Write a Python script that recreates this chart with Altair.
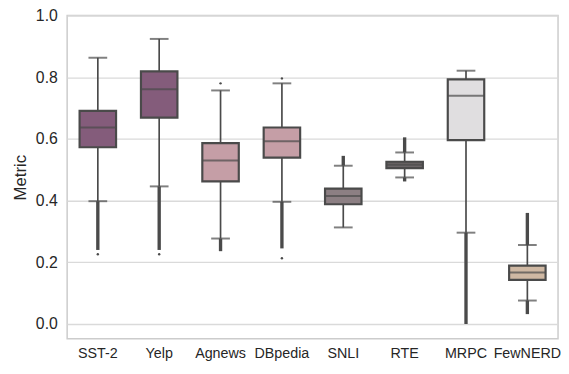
import altair as alt
import pandas as pd

cats = ["SST-2", "Yelp", "Agnews", "DBpedia", "SNLI", "RTE", "MRPC", "FewNERD"]
colors = ["#845C7B", "#845C7B", "#C59EA6", "#C59EA6", "#8C7F83", "#6B6567", "#E0DEE0", "#CFB8A3"]
w_lo = [0.398, 0.446, 0.277, 0.396, 0.313, 0.475, 0.296, 0.076]
q1 = [0.573, 0.669, 0.462, 0.539, 0.388, 0.505, 0.596, 0.143]
med = [0.637, 0.761, 0.530, 0.592, 0.415, 0.516, 0.740, 0.167]
q3 = [0.691, 0.819, 0.586, 0.637, 0.439, 0.526, 0.793, 0.189]
w_hi = [0.863, 0.924, 0.757, 0.780, 0.513, 0.556, 0.821, 0.256]

# dense outlier runs (category, from, to)
band_cat = ["SST-2", "Yelp", "Agnews", "DBpedia", "SNLI", "RTE", "RTE", "MRPC", "FewNERD", "FewNERD"]
band_lo = [0.240, 0.240, 0.236, 0.245, 0.513, 0.556, 0.462, 0.000, 0.256, 0.032]
band_hi = [0.398, 0.446, 0.277, 0.396, 0.545, 0.605, 0.475, 0.296, 0.360, 0.076]

# isolated outliers
pt_cat = ["SST-2", "Yelp", "Agnews", "DBpedia", "DBpedia"]
pt_val = [0.226, 0.226, 0.780, 0.796, 0.213]

box = pd.DataFrame({"cat": cats, "color": colors, "w_lo": w_lo, "q1": q1,
                    "med": med, "q3": q3, "w_hi": w_hi})
bands = pd.DataFrame({"cat": band_cat, "lo": band_lo, "hi": band_hi})
pts = pd.DataFrame({"cat": pt_cat, "v": pt_val})

line_col = "#4A4A4A"
x = alt.X("cat:N", sort=cats, title=None,
          scale=alt.Scale(paddingInner=0, paddingOuter=0),
          axis=alt.Axis(ticks=False, domain=False, labelAngle=0, labelPadding=8,
                        labelFontSize=14.5, labelColor="#262626", labelFont="Liberation Sans"))
yscale = alt.Scale(domain=[-0.048, 1.0], nice=False, zero=False)
yaxis = alt.Axis(values=[0, 0.2, 0.4, 0.6, 0.8, 1.0], format=".1f", ticks=False, domain=False,
                 labelFontSize=16, labelColor="#262626", labelFont="Liberation Sans",
                 labelPadding=10, gridColor="#DADADA", gridWidth=1.4,
                 titleFontSize=17, titleFontWeight="normal", titleColor="#262626",
                 titleFont="Liberation Sans", titlePadding=6)

base = alt.Chart(box)

whisk = base.mark_rule(color=line_col, strokeWidth=1.7).encode(
    x=x, y=alt.Y("w_lo:Q", scale=yscale, axis=yaxis, title="Metric"), y2="w_hi:Q")
outband = alt.Chart(bands).mark_rule(color=line_col, strokeWidth=3.4).encode(
    x=x, y=alt.Y("lo:Q", scale=yscale), y2="hi:Q")
outpts = alt.Chart(pts).mark_circle(color=line_col, size=6, opacity=1).encode(
    x=x, y=alt.Y("v:Q", scale=yscale))
caps_lo = base.mark_tick(color=line_col, size=19, thickness=2).encode(
    x=x, y=alt.Y("w_lo:Q", scale=yscale))
caps_hi = base.mark_tick(color=line_col, size=19, thickness=2).encode(
    x=x, y=alt.Y("w_hi:Q", scale=yscale))
boxes = base.mark_bar(size=37, stroke=line_col, strokeWidth=2.2).encode(
    x=x, y=alt.Y("q1:Q", scale=yscale), y2="q3:Q",
    color=alt.Color("color:N", scale=None))
medians = base.mark_tick(color=line_col, size=37, thickness=2).encode(
    x=x, y=alt.Y("med:Q", scale=yscale))

chart = alt.layer(whisk, outband, outpts, caps_lo, caps_hi, boxes, medians).properties(
    width=498, height=328,
    autosize=alt.AutoSizeParams(type="none"),
    padding={"top": 5, "left": 60, "right": 3, "bottom": 24},
    background="white"
).configure_view(stroke="#CCCCCC", strokeWidth=1.5)

chart.save("out.html", embed_options={"renderer": "svg", "actions": False})
